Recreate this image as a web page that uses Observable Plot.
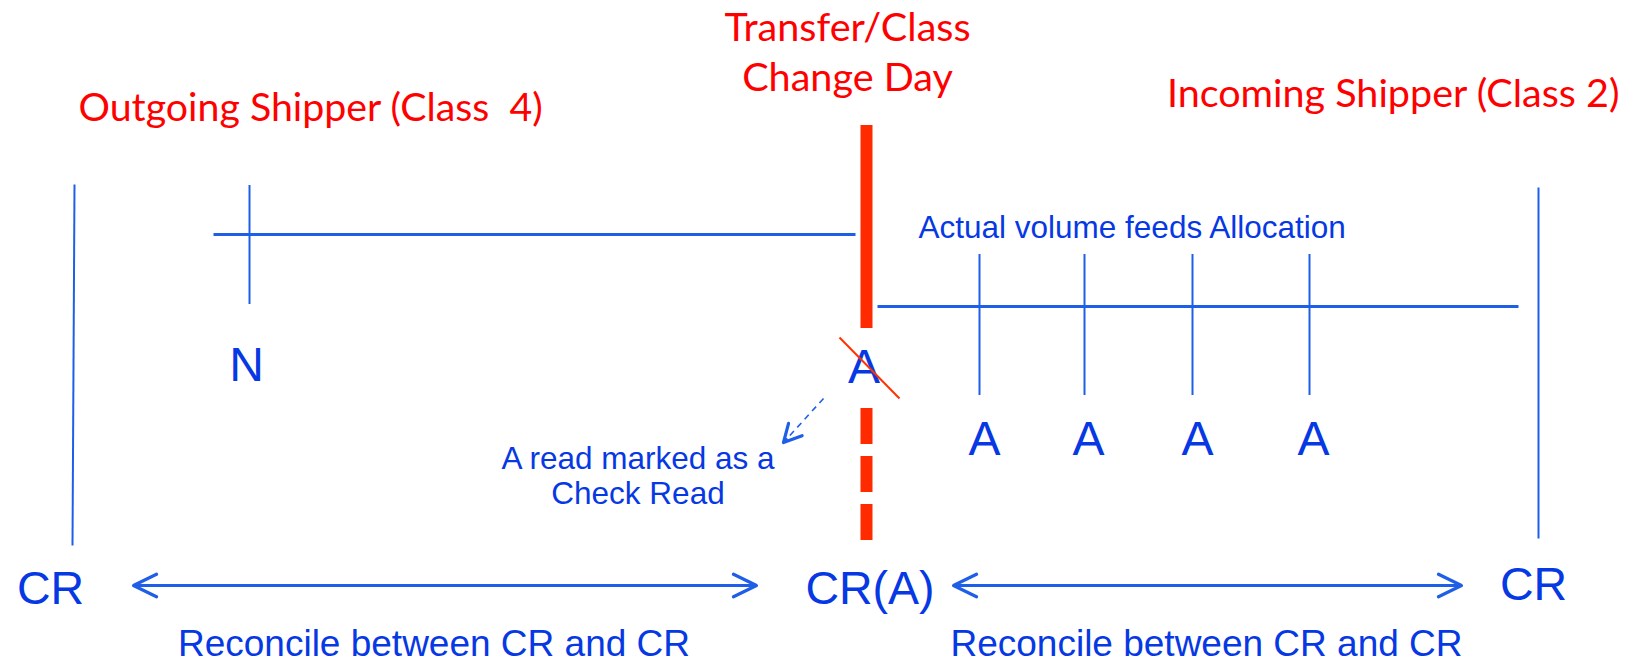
<!DOCTYPE html>
<html>
<head>
<meta charset="utf-8">
<script src="https://cdn.jsdelivr.net/npm/d3@7"></script>
<script src="https://cdn.jsdelivr.net/npm/@observablehq/plot@0.6"></script>
<style>
html, body { margin: 0; padding: 0; background: #fff; }
#chart svg { display: block; }
</style>
</head>
<body>
<div id="chart"></div>
<script>
const W = 1628, H = 661;

// ---- Headings (red) ----
const headingLeft = [{text: "Outgoing Shipper (Class  4)", x: 78, y: 120}];
const headingMid = [{text: "Transfer/Class\nChange Day", x: 847, y: 90}];
const headingRight = [{text: "Incoming Shipper (Class 2)", x: 1619, y: 106}];

// ---- Transfer day marker (red) ----
const transferX = 866;
const transferSolid = [{x: transferX, y1: 125, y2: 328}];
const transferDashed = [{x: transferX, y1: 408, y2: 540}];
const crossOut = [{x1: 839, y1: 337, x2: 899, y2: 398}];

// ---- Timeline lines (blue) ----
const crLines = [
  {x1: 74, y1: 184, x2: 72, y2: 545},
  {x1: 1538, y1: 187, x2: 1538, y2: 538}
];
const timelines = [
  {x1: 213, x2: 855, y: 234},
  {x1: 877, x2: 1518, y: 306}
];
const readTicks = [
  {x: 249, y1: 185, y2: 304},
  {x: 979, y1: 254, y2: 395},
  {x: 1084, y1: 254, y2: 395},
  {x: 1192, y1: 254, y2: 395},
  {x: 1309, y1: 254, y2: 395}
];

// ---- Read labels ----
const readLabels = ["N", "A", "A", "A", "A"];
const readLabelX = [246, 984, 1088, 1197, 1313];
const readLabelY = [380, 454, 454, 454, 454];
const checkReadLabel = [{text: "A", x: 863.5, y: 382}];

// ---- Check read note ----
const noteText = [{text: "A read marked as a\nCheck Read", x: 637.5, y: 503}];
const noteArrow = [{x1: 823, y1: 398, x2: 783, y2: 442}];

// ---- Actual volume note ----
const actualText = [{text: "Actual volume feeds Allocation", x: 918, y: 237}];

// ---- Close reads and reconciliation ----
const crLabels = ["CR", "CR(A)", "CR"];
const crLabelX = [50, 869.5, 1533];
const crLabelY = [603, 603, 599];
const reconcileSpans = [{x1: 133, x2: 756}, {x1: 953, x2: 1461}];
const reconcileY = 585;
const reconcileLabels = ["Reconcile between CR and CR", "Reconcile between CR and CR"];
const reconcileLabelX = [433.5, 1206];
const reconcileLabelY = [655, 655];

// ---- derived tables ----
const readTable = readLabels.map((t, i) => ({text: t, x: readLabelX[i], y: readLabelY[i]}));
const crTable = crLabels.map((t, i) => ({text: t, x: crLabelX[i], y: crLabelY[i]}));
const recTable = reconcileLabels.map((t, i) => ({text: t, x: reconcileLabelX[i], y: reconcileLabelY[i]}));
const halfArrows = reconcileSpans.flatMap(s => {
  const m = (s.x1 + s.x2) / 2;
  return [{x1: m, x2: s.x1, y: reconcileY}, {x1: m, x2: s.x2, y: reconcileY}];
});

const RED = "#ff0000";
const RED_LINE = "#ff2a00";
const BLUE_TXT = "#0638e4";
const BLUE_LINE = "#1f5fe8";
const SANS = "Liberation Sans, Arial, sans-serif";
const HEAD = "Lato, Carlito, Calibri, sans-serif";

const na = noteArrow[0];
const noteLen = Math.hypot(na.x2 - na.x1, na.y2 - na.y1);

const plot = Plot.plot({
  width: W,
  height: H,
  margin: 0,
  x: {domain: [0, W], range: [0, W], axis: null},
  y: {domain: [0, H], range: [0, H], axis: null},
  style: {background: "white", overflow: "visible"},
  marks: [
    // blue structure
    Plot.link(crLines, {x1: "x1", y1: "y1", x2: "x2", y2: "y2", stroke: BLUE_LINE, strokeWidth: 2}),
    Plot.link(timelines, {x1: "x1", x2: "x2", y1: "y", y2: "y", stroke: BLUE_LINE, strokeWidth: 2.8}),
    Plot.ruleX(readTicks, {x: "x", y1: "y1", y2: "y2", stroke: BLUE_LINE, strokeWidth: 2}),

    // red transfer day line
    Plot.ruleX(transferSolid, {x: "x", y1: "y1", y2: "y2", stroke: RED_LINE, strokeWidth: 12}),
    Plot.ruleX(transferDashed, {x: "x", y1: "y1", y2: "y2", stroke: RED_LINE, strokeWidth: 12, strokeDasharray: "36,12"}),

    // headings
    Plot.text(headingLeft, {x: "x", y: "y", text: "text", textAnchor: "start", lineAnchor: "bottom", fill: RED, fontSize: 39.3, fontFamily: HEAD}),
    Plot.text(headingMid, {x: "x", y: "y", text: "text", textAnchor: "middle", lineAnchor: "bottom", lineHeight: 1.24, fill: RED, fontSize: 39.6, fontFamily: HEAD}),
    Plot.text(headingRight, {x: "x", y: "y", text: "text", textAnchor: "end", lineAnchor: "bottom", fill: RED, fontSize: 39.5, fontFamily: HEAD}),

    // read labels
    Plot.text(readTable, {x: "x", y: "y", text: "text", textAnchor: "middle", lineAnchor: "bottom", fill: BLUE_TXT, fontSize: 48, fontFamily: SANS}),
    Plot.text(checkReadLabel, {x: "x", y: "y", text: "text", textAnchor: "middle", lineAnchor: "bottom", fill: BLUE_TXT, fontSize: 48, fontFamily: SANS}),
    Plot.link(crossOut, {x1: "x1", y1: "y1", x2: "x2", y2: "y2", stroke: "#ff3300", strokeWidth: 2}),

    // notes
    Plot.text(actualText, {x: "x", y: "y", text: "text", textAnchor: "start", lineAnchor: "bottom", fill: BLUE_TXT, fontSize: 31.5, fontFamily: SANS}),
    Plot.text(noteText, {x: "x", y: "y", text: "text", textAnchor: "middle", lineAnchor: "bottom", lineHeight: 1.11, fill: BLUE_TXT, fontSize: 31.5, fontFamily: SANS}),
    Plot.link(noteArrow, {x1: "x1", y1: "y1", x2: "x2", y2: "y2", stroke: BLUE_LINE, strokeWidth: 1.6, strokeDasharray: "6,5"}),
    Plot.arrow(noteArrow, {x1: "x1", y1: "y1", x2: "x2", y2: "y2", stroke: BLUE_LINE, strokeWidth: 3.2, headLength: 12, headAngle: 55, insetStart: noteLen - 4, strokeLinecap: "round"}),

    // close reads
    Plot.text(crTable, {x: "x", y: "y", text: "text", textAnchor: "middle", lineAnchor: "bottom", fill: BLUE_TXT, fontSize: 46.5, fontFamily: SANS}),
    Plot.arrow(halfArrows, {x1: "x1", x2: "x2", y1: "y", y2: "y", stroke: BLUE_LINE, strokeWidth: 3.2, headLength: 12, headAngle: 52, strokeLinecap: "round"}),
    Plot.text(recTable, {x: "x", y: "y", text: "text", textAnchor: "middle", lineAnchor: "bottom", fill: BLUE_TXT, fontSize: 37, fontFamily: SANS})
  ]
});

document.getElementById("chart").appendChild(plot);
</script>
</body>
</html>
